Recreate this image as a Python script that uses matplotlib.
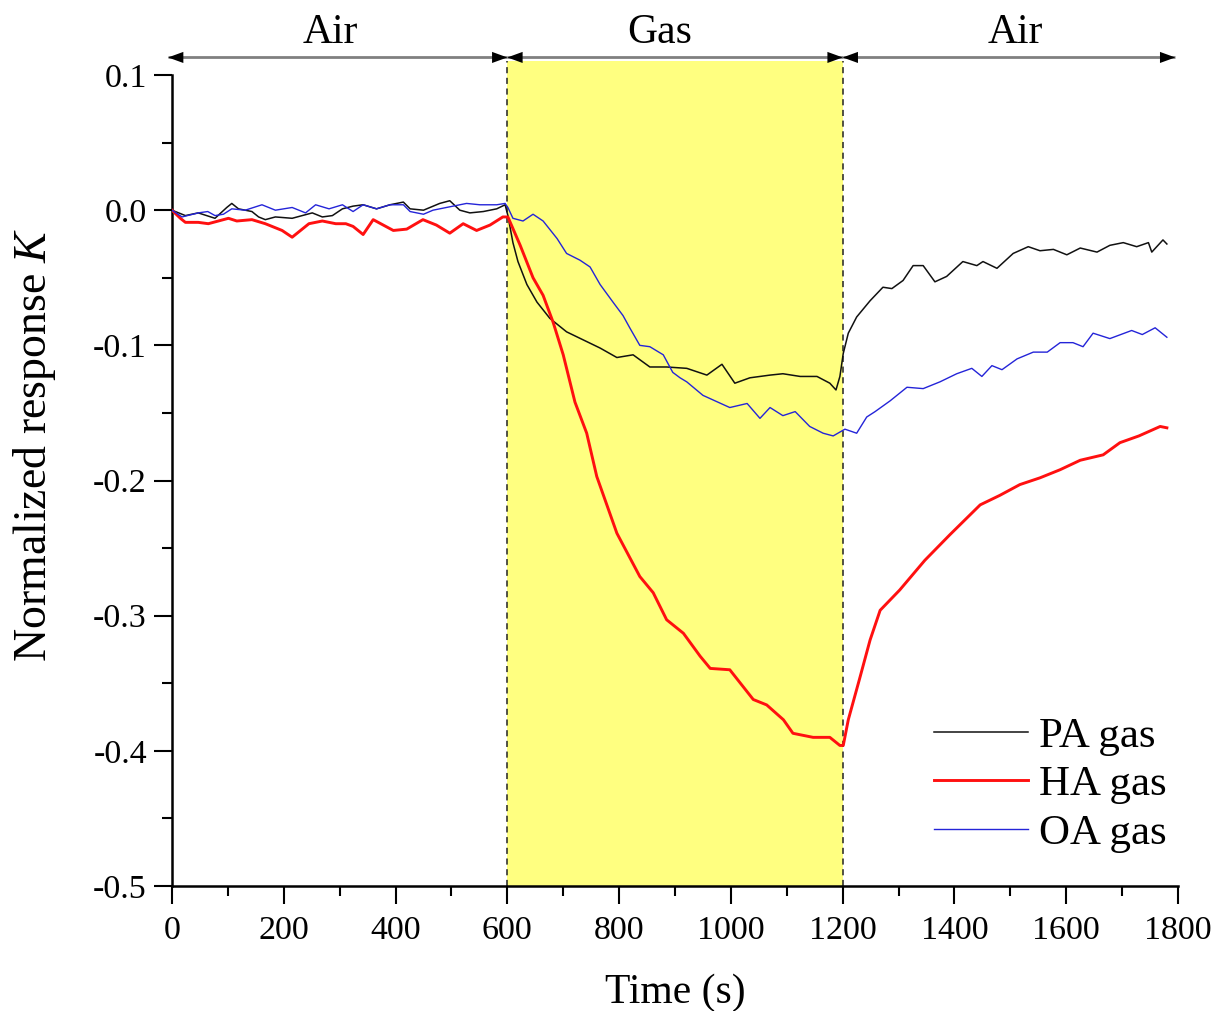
import matplotlib

matplotlib.use('Agg')
import matplotlib.pyplot as plt
from matplotlib.ticker import FormatStrFormatter, MultipleLocator

plt.rcParams['font.family'] = ['Liberation Serif', 'DejaVu Serif']
plt.rcParams['mathtext.fontset'] = 'custom'
plt.rcParams['mathtext.it'] = 'Liberation Serif:italic'
plt.rcParams['axes.unicode_minus'] = False

# exposure schedule (s)
GAS_ON = 600
GAS_OFF = 1200
phase_edges = [-7, 600, 1200, 1795]
phase_names = ['Air', 'Gas', 'Air']
phase_label_x = [283, 873, 1508]

# PA gas
pa_t = [0, 24, 47, 77, 98, 107, 119, 143, 155, 167, 185, 215, 233, 251, 269,
        287, 305, 324, 342, 366, 390, 414, 426, 450, 479, 497, 515, 533, 557,
        581, 596, 601, 610, 619, 635, 653, 676, 706, 736, 766, 796, 825, 855,
        885, 921, 957, 984, 1007, 1034, 1070, 1093, 1124, 1154, 1177, 1188,
        1195, 1201, 1210, 1225, 1249, 1272, 1288, 1308, 1326, 1344, 1365, 1386,
        1415, 1440, 1451, 1476, 1505, 1532, 1553, 1577, 1601, 1625, 1655, 1678,
        1702, 1726, 1747, 1753, 1773, 1780]
pa_k = [0.000, -0.004, -0.002, -0.006, 0.002, 0.005, 0.001, -0.001, -0.005,
        -0.007, -0.005, -0.006, -0.004, -0.002, -0.005, -0.004, 0.001, 0.003,
        0.004, 0.001, 0.004, 0.006, 0.001, 0.000, 0.005, 0.007, 0.000, -0.002,
        -0.001, 0.001, 0.004, -0.004, -0.024, -0.038, -0.055, -0.068, -0.080,
        -0.090, -0.096, -0.102, -0.109, -0.107, -0.116, -0.116, -0.117, -0.122,
        -0.114, -0.128, -0.124, -0.122, -0.121, -0.123, -0.123, -0.128, -0.133,
        -0.123, -0.106, -0.091, -0.079, -0.067, -0.057, -0.058, -0.052, -0.041,
        -0.041, -0.053, -0.049, -0.038, -0.041, -0.038, -0.043, -0.032, -0.027,
        -0.030, -0.029, -0.033, -0.028, -0.031, -0.026, -0.024, -0.027, -0.024,
        -0.031, -0.022, -0.025]

# HA gas
ha_t = [0, 15, 24, 47, 65, 83, 101, 116, 143, 167, 197, 215, 227, 245, 269,
        293, 311, 324, 342, 360, 378, 396, 420, 449, 473, 497, 521, 545, 569,
        592, 601, 623, 646, 664, 682, 700, 721, 742, 760, 796, 837, 861, 885,
        915, 945, 963, 998, 1040, 1064, 1094, 1111, 1147, 1177, 1195, 1201,
        1210, 1230, 1249, 1267, 1302, 1347, 1392, 1446, 1481, 1517, 1553, 1589,
        1625, 1666, 1696, 1730, 1768, 1780]
ha_k = [0.000, -0.006, -0.009, -0.009, -0.010, -0.008, -0.006, -0.008, -0.007,
        -0.010, -0.015, -0.020, -0.016, -0.010, -0.008, -0.010, -0.010, -0.012,
        -0.018, -0.007, -0.011, -0.015, -0.014, -0.007, -0.011, -0.017, -0.010,
        -0.015, -0.011, -0.005, -0.005, -0.026, -0.050, -0.063, -0.083, -0.107,
        -0.142, -0.165, -0.197, -0.239, -0.271, -0.283, -0.303, -0.313, -0.330,
        -0.339, -0.340, -0.362, -0.366, -0.377, -0.387, -0.390, -0.390, -0.396,
        -0.396, -0.377, -0.347, -0.318, -0.296, -0.281, -0.259, -0.240, -0.218,
        -0.211, -0.203, -0.198, -0.192, -0.185, -0.181, -0.172, -0.167, -0.160,
        -0.161]

# OA gas
oa_t = [0, 18, 47, 64, 77, 92, 107, 131, 161, 185, 215, 239, 257, 281, 305,
        324, 342, 366, 390, 414, 426, 450, 467, 479, 503, 527, 551, 581, 596,
        601, 610, 628, 646, 664, 689, 706, 730, 748, 766, 789, 807, 819, 837,
        855, 879, 896, 909, 921, 950, 998, 1029, 1052, 1070, 1093, 1115, 1141,
        1165, 1183, 1204, 1225, 1243, 1258, 1285, 1315, 1344, 1374, 1404, 1431,
        1449, 1467, 1485, 1512, 1541, 1566, 1589, 1612, 1630, 1648, 1678, 1717,
        1736, 1759, 1780]
oa_k = [0.000, -0.005, -0.002, -0.001, -0.004, -0.003, 0.001, 0.000, 0.004,
        0.000, 0.002, -0.002, 0.004, 0.001, 0.004, -0.001, 0.004, 0.001, 0.004,
        0.004, -0.001, -0.003, 0.000, 0.001, 0.003, 0.005, 0.004, 0.004, 0.005,
        0.002, -0.006, -0.008, -0.003, -0.008, -0.021, -0.032, -0.037, -0.042,
        -0.055, -0.068, -0.078, -0.087, -0.100, -0.101, -0.107, -0.120, -0.124,
        -0.127, -0.137, -0.146, -0.143, -0.154, -0.146, -0.152, -0.149, -0.160,
        -0.165, -0.167, -0.162, -0.165, -0.153, -0.149, -0.141, -0.131, -0.132,
        -0.127, -0.121, -0.117, -0.123, -0.115, -0.118, -0.110, -0.105, -0.105,
        -0.098, -0.098, -0.101, -0.091, -0.095, -0.089, -0.092, -0.087, -0.094]

Y_MIN, Y_MAX = -0.5, 0.1
SHADE_TOP = 0.11
ARROW_Y = 0.113
LABEL_Y = 0.131

fig = plt.figure(figsize=(12.18, 10.11), dpi=100)
ax = fig.add_axes([0.1412, 0.1236, 0.826, 0.8022])

# gas exposure window
ax.axvspan(GAS_ON, GAS_OFF, ymin=0, ymax=(SHADE_TOP - Y_MIN) / (Y_MAX - Y_MIN),
           color='#ffff80', zorder=0, clip_on=False, lw=0)
for x in (GAS_ON, GAS_OFF):
    ax.plot([x, x], [Y_MIN, SHADE_TOP], ls=(0, (4, 3)), color='#222222',
            lw=1.1, clip_on=False, zorder=1)

ax.plot(pa_t, pa_k, color='#111111', lw=1.1, label='PA gas', zorder=3)
ax.plot(ha_t, ha_k, color='#ff1010', lw=2.1, label='HA gas', zorder=3)
ax.plot(oa_t, oa_k, color='#2424d8', lw=1.0, label='OA gas', zorder=4)

# phase arrows along the top
for i, name in enumerate(phase_names):
    x0, x1 = phase_edges[i], phase_edges[i + 1]
    ax.plot([x0, x1], [ARROW_Y, ARROW_Y], color='#808080', lw=2.0,
            clip_on=False, solid_capstyle='butt')
    for a, b in ((x0, x1), (x1, x0)):
        ax.annotate('', xy=(b, ARROW_Y), xytext=((a + b) / 2, ARROW_Y),
                    arrowprops=dict(arrowstyle='-|>,head_length=1.1,head_width=0.4',
                                    color='black', lw=0, shrinkA=0, shrinkB=0),
                    annotation_clip=False)
    ax.text(phase_label_x[i], LABEL_Y, name, ha='center', va='center',
            fontsize=30)

ax.set_xlim(0, 1800)
ax.set_ylim(Y_MIN, Y_MAX)
ax.xaxis.set_major_locator(MultipleLocator(200))
ax.xaxis.set_minor_locator(MultipleLocator(100))
ax.yaxis.set_major_locator(MultipleLocator(0.1))
ax.yaxis.set_minor_locator(MultipleLocator(0.05))
ax.yaxis.set_major_formatter(FormatStrFormatter('%.1f'))

for side in ('top', 'right'):
    ax.spines[side].set_visible(False)
for side in ('left', 'bottom'):
    ax.spines[side].set_linewidth(1.8)

ax.tick_params(which='major', direction='out', length=13, width=1.5,
               labelsize=24.5)
ax.tick_params(which='minor', direction='out', length=7, width=1.5)
ax.tick_params(axis='x', which='major', pad=8)
ax.tick_params(axis='y', which='major', pad=5)

ax.set_xlabel('Time (s)', fontsize=30, labelpad=20)
ax.set_ylabel('Normalized response $\\mathit{K}$', fontsize=33)
ax.yaxis.set_label_coords(-0.113, 0.544)

ax.legend(loc='center left', bbox_to_anchor=(0.74, 0.125), frameon=False,
          fontsize=31, handlelength=2.2, handletextpad=0.25,
          labelspacing=0.22, borderaxespad=0)

fig.savefig('out.png', dpi=100)
